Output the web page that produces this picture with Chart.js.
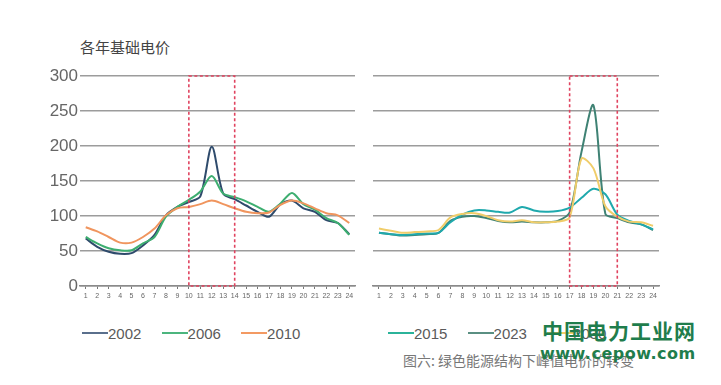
<!DOCTYPE html>
<html>
<head>
<meta charset="utf-8">
<script src="https://cdn.jsdelivr.net/npm/chart.js@4.4.1/dist/chart.umd.min.js"></script>
<style>
  body { margin: 0; background: #fff; width: 721px; height: 385px; overflow: hidden; position: relative; font-family: "Liberation Sans", Arial, sans-serif; }
  canvas { position: absolute; top: 0; }
  #left { left: 0; }
  #right { left: 362px; }
  .title { position: absolute; left: 80px; top: 36px; font: 15px "Noto Sans CJK SC"; color: #444; }
  .legend { position: absolute; top: 323px; font-size: 15px; color: #5a5a5a; white-space: nowrap; }
  .legend span { display: inline-block; vertical-align: middle; }
  .legend .ln { width: 26px; height: 2px; margin-right: 0; }
  .legend .tx { margin-right: 16px; }
  .caption { position: absolute; left: 403px; top: 350px; font: 14px "Noto Sans CJK SC"; color: #777; }
  .wm1 { position: absolute; left: 542px; top: 315px; font: bold 21px "Noto Sans CJK SC"; color: #1f7d4c; letter-spacing: 1px; }
  .wm2 { position: absolute; left: 540px; top: 344px; font: bold 16px "DejaVu Sans"; color: #1f7d4c; letter-spacing: 0.5px; }
</style>
</head>
<body>
<div class="title">各年基础电价</div>
<canvas id="left" width="362" height="310"></canvas>
<canvas id="right" width="359" height="310"></canvas>

<div class="legend" style="left:82px">
  <span class="ln" style="background:#5a6f8c"></span><span class="tx">2002</span>
  <span class="ln" style="background:#4cb57e"></span><span class="tx">2006</span>
  <span class="ln" style="background:#f39a63"></span><span class="tx">2010</span>
</div>
<div class="legend" style="left:388px">
  <span class="ln" style="background:#2bb39a"></span><span class="tx">2015</span>
  <span class="ln" style="background:#5a8f82"></span><span class="tx">2023</span>
  <span class="ln" style="background:#f2cf66"></span><span class="tx">2030</span>
</div>
<div class="caption">图六: 绿色能源结构下峰值电价的转变</div>
<div class="wm1">中国电力工业网</div>
<div class="wm2">www.cepow.com</div>

<script>
const hours = ['1','2','3','4','5','6','7','8','9','10','11','12','13','14','15','16','17','18','19','20','21','22','23','24'];
const yTicks = [0, 50, 100, 150, 200, 250, 300];

// left chart: past years
const y2002 = [68, 56, 49, 46, 47, 58, 73, 101, 113, 120, 128, 199, 132, 124, 115, 106, 99, 117, 122, 111, 106, 94, 90, 74];
const y2006 = [70, 61, 54, 51, 51, 61, 70, 99, 113, 123, 135, 157, 132, 127, 121, 113, 106, 118, 133, 117, 109, 97, 90, 73];
const y2010 = [84, 78, 70, 62, 62, 70, 82, 101, 111, 113, 117, 122, 117, 111, 106, 104, 105, 116, 122, 118, 111, 104, 101, 90];

// right chart: recent / future
const y2015 = [76, 74, 73, 74, 75, 76, 91, 102, 108, 108, 106, 105, 113, 108, 106, 107, 112, 126, 139, 131, 102, 93, 88, 81];
const y2023 = [76, 74, 72, 73, 74, 76, 93, 99, 100, 97, 93, 91, 92, 91, 91, 93, 105, 192, 258, 103, 97, 91, 88, 80];
const y2030 = [82, 79, 76, 77, 78, 80, 98, 103, 104, 100, 94, 92, 94, 91, 91, 92, 98, 182, 168, 114, 99, 92, 91, 86];

const boxLeft = ['10', '14'];
const boxRight = ['17', '21'];

const gridGrey = '#9c9c9c';

function boxPlugin(range) {
  return {
    id: 'peakBox',
    afterDatasetsDraw(chart) {
      const x = chart.scales.x;
      const a = chart.chartArea;
      const x1 = x.getPixelForValue(hours.indexOf(range[0]));
      const x2 = x.getPixelForValue(hours.indexOf(range[1]));
      const ctx = chart.ctx;
      ctx.save();
      ctx.strokeStyle = '#e0435f';
      ctx.lineWidth = 1.6;
      ctx.setLineDash([3, 2.5]);
      ctx.strokeRect(x1, a.top, x2 - x1, a.bottom - a.top);
      ctx.restore();
    }
  };
}

function makeLine(label, data, color) {
  return {
    label: label,
    data: data,
    borderColor: color,
    borderWidth: 2,
    pointRadius: 0,
    tension: 0.3,
    fill: false
  };
}

function options(showY, padLeft, padRight) {
  return {
    responsive: false,
    animation: false,
    layout: { padding: { left: padLeft, right: padRight, top: 76, bottom: 0 } },
    plugins: { legend: { display: false }, tooltip: { enabled: false } },
    scales: {
      x: {
        type: 'category',
        offset: true,
        afterFit: (s) => { s.height = 24; },
        grid: { drawOnChartArea: false, drawTicks: true, tickLength: 3, color: '#777', lineWidth: 1 },
        border: { display: true, color: '#8a8a8a', width: 1.5 },
        ticks: { color: '#666', font: { size: 7, family: 'Liberation Sans' }, padding: 3, maxRotation: 0, autoSkip: false }
      },
      y: {
        min: 0,
        max: 300,
        afterBuildTicks: (s) => { s.ticks = yTicks.map(v => ({ value: v })); },
        afterFit: (s) => { s.width = showY ? 30 : 0; },
        grid: { color: gridGrey, lineWidth: 1.5, drawTicks: false },
        border: { display: false },
        ticks: { display: showY, color: '#666', padding: 2, font: { size: 17, family: 'Liberation Sans' } }
      }
    }
  };
}

new Chart(document.getElementById('left'), {
  type: 'line',
  data: {
    labels: hours,
    datasets: [
      makeLine('2010', y2010, '#f0955e'),
      makeLine('2006', y2006, '#3dae70'),
      makeLine('2002', y2002, '#2f4b6c')
    ]
  },
  options: options(true, 50, 7),
  plugins: [boxPlugin(boxLeft)]
});

new Chart(document.getElementById('right'), {
  type: 'line',
  data: {
    labels: hours,
    datasets: [
      makeLine('2030', y2030, '#f0cd6a'),
      makeLine('2015', y2015, '#1fa9ad'),
      makeLine('2023', y2023, '#3f8274')
    ]
  },
  options: options(false, 11, 62),
  plugins: [boxPlugin(boxRight)]
});
</script>
</body>
</html>
